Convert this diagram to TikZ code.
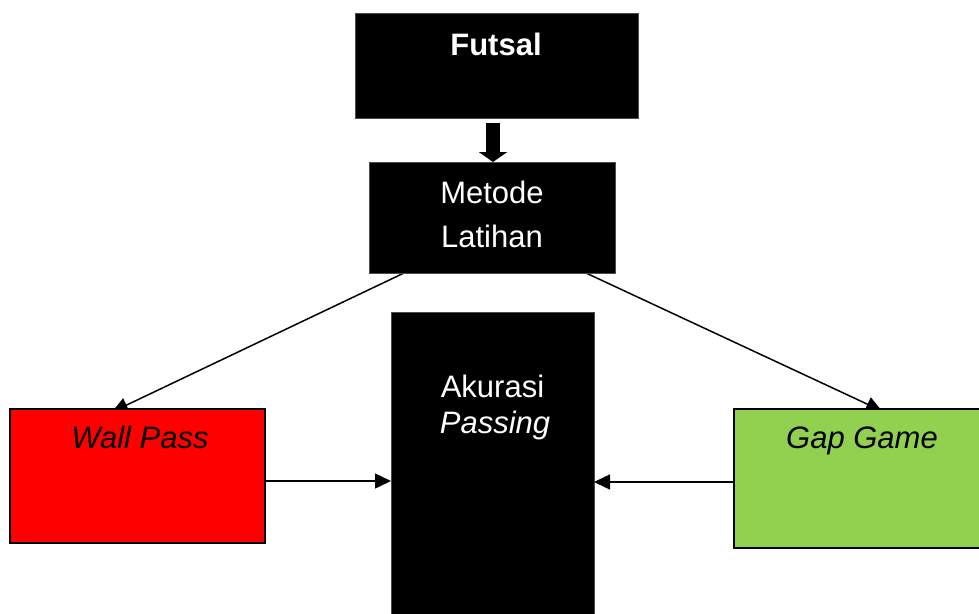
\documentclass[tikz,border=0pt]{standalone}
\usepackage{fontspec}
\setmainfont{Liberation Sans}
\usetikzlibrary{arrows.meta}
\pgfdeclarelayer{bg}
\pgfsetlayers{bg,main}
\definecolor{boxgreen}{HTML}{92D050}
\definecolor{boxred}{HTML}{FF0000}
\begin{document}
\begin{tikzpicture}[x=1pt,y=-1pt,
  box/.style={rectangle,inner sep=0pt,outer sep=0pt},
  blackbox/.style={box,fill=black,draw=black!70,line width=0.8pt},
  colbox/.style={box,draw=black,line width=1.5pt},
  lbl/.style={inner sep=0pt,anchor=base,font=\fontsize{31}{37}\selectfont},
  conn/.style={line width=1.5pt,-{Triangle[length=16pt,width=15pt]}},
  bigarrow/.style={line width=14pt,-{Triangle[length=10pt,width=28pt]}}
]
\useasboundingbox (0,0) rectangle (979,613);
\clip (0,0) rectangle (979,613);

\node[blackbox,minimum width=283pt,minimum height=105pt] (futsal) at (496.5,65.5) {};
\node[blackbox,minimum width=246pt,minimum height=111pt] (metode) at (492,217.5) {};
\node[blackbox,minimum width=203pt,minimum height=304pt] (akurasi) at (492.5,464) {};
\node[colbox,fill=boxred,minimum width=255pt,minimum height=134pt] (wall) at (137.5,476) {};
\node[colbox,fill=boxgreen,minimum width=251pt,minimum height=139pt] (gap) at (859.5,478.5) {};

\node[lbl,text=white,font=\fontsize{31}{37}\selectfont\bfseries] (tfutsal) at (496,55) {Futsal};
\node[lbl,text=white] (tmetode) at (492,203) {Metode};
\node[lbl,text=white] (tlatihan) at (492,247) {Latihan};
\node[lbl,text=white] (takurasi) at (492.5,397) {Akurasi};
\node[lbl,text=white] (tpassing) at (495,433) {\itshape Passing};
\node[lbl,text=black] (twall) at (140,448) {\itshape Wall Pass};
\node[lbl,text=black] (tgap) at (862,448) {\itshape Gap Game};

\draw[bigarrow,shorten <=5pt] ([xshift=1pt]metode.north |- futsal.south) -- ([xshift=1pt]metode.north);
\begin{pgfonlayer}{bg}
\draw[conn] ([xshift=35pt]metode.south west) -- ([xshift=102pt,yshift=-3pt]wall.north west);
\draw[conn] ([xshift=-29pt]metode.south east) -- ([xshift=148pt,yshift=-2pt]gap.north west);
\end{pgfonlayer}
\draw[conn] ([yshift=-5pt]wall.east) -- ([yshift=-5pt]wall.east -| akurasi.west);
\draw[conn] ([yshift=-3.5pt]gap.west) -- ([yshift=-3.5pt]gap.west -| akurasi.east);
\end{tikzpicture}
\end{document}
